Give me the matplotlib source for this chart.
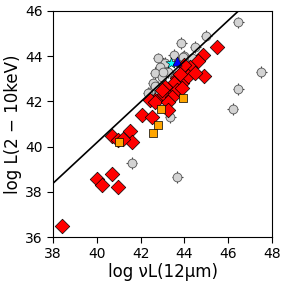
import matplotlib
matplotlib.use('Agg')
import matplotlib.pyplot as plt
import numpy as np

# gray circles (with error bars)
gray_x = [46.45, 47.5, 46.45, 46.2, 45.0, 43.85, 44.5, 42.8, 43.5, 44.0, 43.1, 42.9,
          42.66, 42.98, 42.57, 42.8, 42.43, 44.16, 44.35, 43.7, 43.25, 43.57, 41.6,
          43.66, 43.34, 43.25, 42.34, 42.66, 43.94, 43.0]
gray_y = [45.5, 43.3, 42.55, 41.66, 44.9, 44.58, 44.4, 43.9, 44.05, 44.0, 43.7, 43.5,
          43.25, 43.08, 42.8, 42.65, 42.4, 43.7, 43.9, 43.75, 43.3, 43.08, 39.27,
          38.65, 41.3, 42.06, 42.37, 42.7, 43.96, 43.3]
gray_err = 0.25

# red diamonds
red_x = [45.5, 44.9, 44.85, 44.6, 44.25, 43.94, 43.66, 43.9, 43.5, 43.25, 43.66, 43.0,
         42.66, 42.43, 44.16, 44.5, 43.43, 43.9, 43.1, 42.98, 42.66, 43.25, 43.25,
         42.06, 42.5, 41.5, 41.6, 40.7, 40.95, 41.2, 40.0, 40.24, 40.7, 40.97, 38.4,
         44.0, 43.8]
red_y = [44.4, 43.1, 44.05, 43.8, 43.5, 43.3, 43.04, 42.8, 42.8, 42.5, 42.5, 42.28,
         42.06, 42.06, 43.1, 43.25, 42.2, 42.6, 42.65, 42.5, 41.97, 41.97, 41.6,
         41.4, 41.3, 40.7, 40.2, 40.45, 40.3, 40.35, 38.57, 38.3, 38.8, 38.2, 36.5,
         43.6, 43.2]

# orange squares
orange_x = [43.94, 42.93, 42.8, 42.55, 41.0]
orange_y = [42.15, 41.66, 40.95, 40.6, 40.2]

# single objects
star_x, star_y = [43.4], [43.7]
tri_x, tri_y = [43.66], [43.8]

# relation
slope = 0.90
intercept = 4.18
line_x = np.array([38, 48])

fig = plt.figure(figsize=(2.87, 2.87), dpi=100)
ax = fig.add_axes([0.185, 0.174, 0.763, 0.788])

ax.errorbar(gray_x, gray_y, xerr=gray_err, yerr=gray_err, fmt='none',
            ecolor='#444444', elinewidth=0.8, capsize=0, zorder=1)
ax.scatter(gray_x, gray_y, s=40, marker='o', color='#d3d3d3', edgecolor='#555555',
           linewidth=0.6, zorder=2)
ax.scatter(red_x, red_y, s=55, marker='D', color='red', edgecolor='black',
           linewidth=0.5, zorder=3)
ax.scatter(orange_x, orange_y, s=40, marker='s', color='orange', edgecolor='black',
           linewidth=0.5, zorder=3)
ax.scatter(star_x, star_y, s=70, marker='*', color='cyan', edgecolor='black',
           linewidth=0.4, zorder=4)
ax.scatter(tri_x, tri_y, s=45, marker='^', color='blue', edgecolor='black',
           linewidth=0.4, zorder=4)
ax.plot(line_x, slope * line_x + intercept, color='black', lw=1.2, zorder=5)

ax.set_xlim(38, 48)
ax.set_ylim(36, 46)
ax.set_xticks([38, 40, 42, 44, 46, 48])
ax.set_yticks([36, 38, 40, 42, 44, 46])
ax.tick_params(labelsize=10, length=4, direction='out', top=False, right=False)
ax.set_xlabel('log νL(12μm)', fontsize=12, labelpad=1)
ax.set_ylabel('log L(2 − 10keV)', fontsize=12, labelpad=2)

fig.savefig('out.png', dpi=100)
